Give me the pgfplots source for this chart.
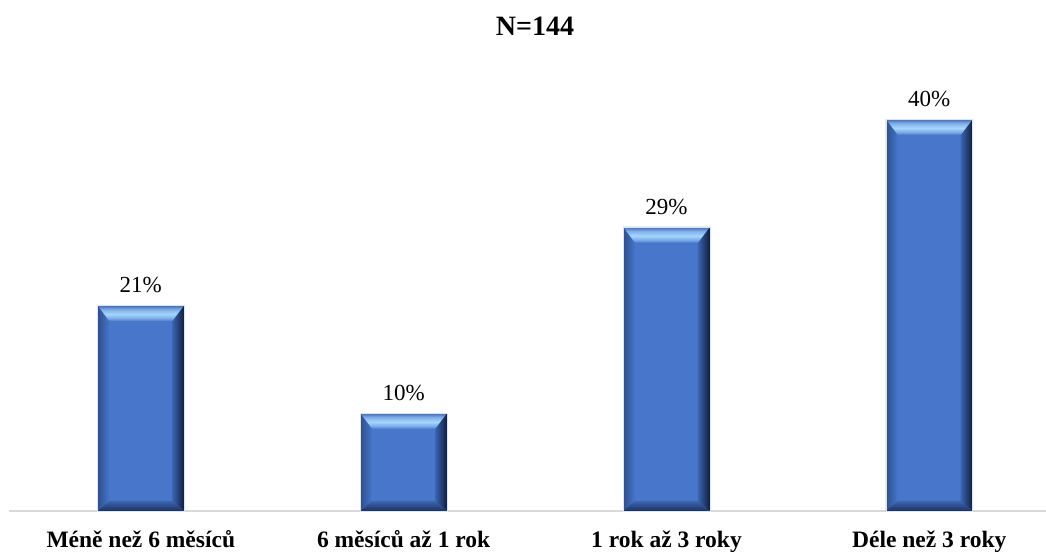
\documentclass[border=0pt]{standalone}
\usepackage{pgfplots}
\pgfplotsset{compat=1.18}
\usepackage{fontspec}
\setmainfont{Liberation Serif}

\definecolor{barface}{HTML}{4876CA}
\definecolor{barhi}{HTML}{A6D6FB}
\definecolor{barhimid}{HTML}{7FAEEA}
\definecolor{bartop}{HTML}{3E66AE}
\definecolor{barleft}{HTML}{2C4F90}
\definecolor{barright}{HTML}{121D37}
\definecolor{barrightin}{HTML}{3A65B0}
\definecolor{barbottom}{HTML}{1C3160}
\definecolor{barbotin}{HTML}{3C66B0}
\definecolor{baseline}{HTML}{D9D9D9}

% bevel shadings (the middle 50bp is stretched over each face)
\pgfdeclareverticalshading{bevtop}{100bp}{%
  color(0bp)=(barface); color(25bp)=(barface); color(35bp)=(barhimid);
  color(47bp)=(barhi); color(62bp)=(barhimid); color(75bp)=(bartop);
  color(100bp)=(bartop)}
\pgfdeclarehorizontalshading{bevleft}{100bp}{%
  color(0bp)=(barleft); color(25bp)=(barleft); color(75bp)=(barface);
  color(100bp)=(barface)}
\pgfdeclarehorizontalshading{bevright}{100bp}{%
  color(0bp)=(barrightin); color(25bp)=(barrightin); color(75bp)=(barright);
  color(100bp)=(barright)}
\pgfdeclareverticalshading{bevbottom}{100bp}{%
  color(0bp)=(barbottom); color(25bp)=(barbottom); color(75bp)=(barbotin);
  color(100bp)=(barbotin)}

% one trapezoid of the bevel, shaded with #1
\newcommand\bevface[5]{%
  \begin{pgfscope}%
  \pgfpathmoveto{#2}\pgfpathlineto{#3}\pgfpathlineto{#4}\pgfpathlineto{#5}%
  \pgfpathclose
  \pgfshadepath{#1}{0}%
  \pgfusepath{}%
  \end{pgfscope}}

\newcommand\bevel{%
  \pgfpointanchor{path picture bounding box}{south west}%
  \pgfgetlastxy{\bx}{\by}%
  \pgfpointanchor{path picture bounding box}{north east}%
  \pgfgetlastxy{\ex}{\ey}%
  \bevface{bevleft}{\pgfpoint{\bx}{\by}}{\pgfpoint{\bx}{\ey}}%
    {\pgfpoint{\bx+12pt}{\ey-16pt}}{\pgfpoint{\bx+12pt}{\by+10pt}}%
  \bevface{bevright}{\pgfpoint{\ex}{\by}}{\pgfpoint{\ex}{\ey}}%
    {\pgfpoint{\ex-12pt}{\ey-16pt}}{\pgfpoint{\ex-12pt}{\by+10pt}}%
  \bevface{bevbottom}{\pgfpoint{\bx}{\by}}{\pgfpoint{\ex}{\by}}%
    {\pgfpoint{\ex-12pt}{\by+10pt}}{\pgfpoint{\bx+12pt}{\by+10pt}}%
  \bevface{bevtop}{\pgfpoint{\bx}{\ey}}{\pgfpoint{\ex}{\ey}}%
    {\pgfpoint{\ex-12pt}{\ey-16pt}}{\pgfpoint{\bx+12pt}{\ey-16pt}}%
}

% each bar is its own path, so that the bevel fits that bar
\pgfplotsset{bevelbar/.style={ybar, bar width=86.8pt, bar shift=0pt,
  fill=barface, draw=white!80!barface, line width=0.6pt,
  path picture={\bevel}, forget plot}}

\begin{document}
\begin{tikzpicture}
\useasboundingbox (-9.4pt,-44pt) rectangle (1036.6pt,511pt);
\begin{axis}[
  at={(0,0)}, anchor=south west,
  scale only axis,
  width=1036.6pt, height=511pt,
  xmin=-0.5, xmax=3.444,
  ymin=0, ymax=52.143,
  axis x line*=bottom,
  axis y line=none,
  x axis line style={-, draw=baseline, line width=1.2pt},
  xtick={0,1,2,3},
  xticklabels={Méně než 6 měsíců, 6 měsíců až 1 rok, 1 rok až 3 roky, Déle než 3 roky},
  major tick length=0pt,
  xticklabel style={anchor=base, yshift=-36pt,
    font=\fontsize{23.5}{26}\selectfont\bfseries},
  /pgf/number format/assume math mode=true,
  clip=false,
]
\addplot[bevelbar] coordinates {(0,21)};
\addplot[bevelbar] coordinates {(1,10)};
\addplot[bevelbar] coordinates {(2,29)};
\addplot[bevelbar] coordinates {(3,40)};

\addplot[draw=none, mark=none,
  nodes near coords={\pgfmathprintnumber{\pgfplotspointmeta}\%},
  every node near coord/.append style={anchor=base, yshift=12.5pt, text=black,
    font=\fontsize{23}{26}\selectfont}]
  coordinates {(0,21) (1,10) (2,29) (3,40)};

\node[anchor=base, font=\fontsize{28}{32}\selectfont\bfseries]
  at (axis cs:1.5,48.47) {N=144};
\end{axis}
\end{tikzpicture}
\end{document}
